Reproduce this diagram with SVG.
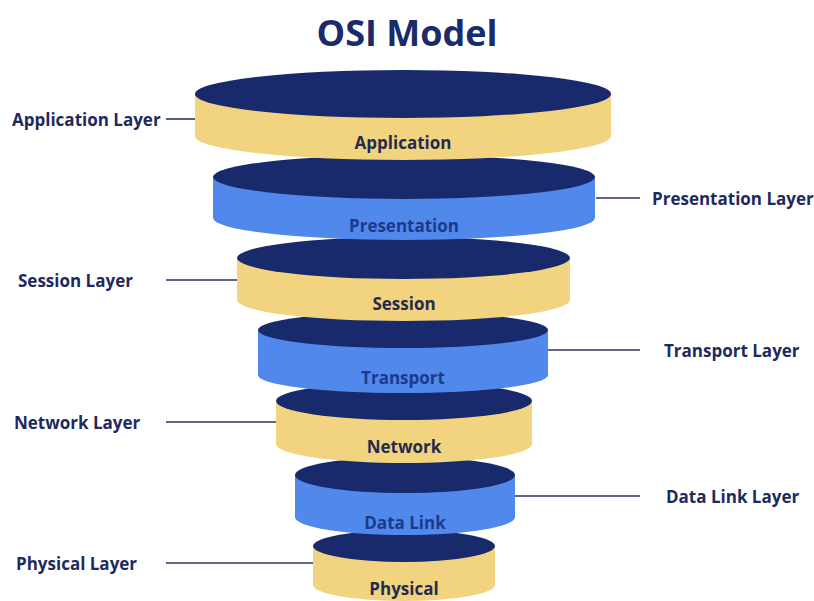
<svg xmlns="http://www.w3.org/2000/svg" width="814" height="601" viewBox="0 0 814 601">
<style>
.top{fill:#182a6c}
.y{fill:#f2d37f}
.b{fill:#5088ec}
.t{font-family:"Open Sans","Noto Sans",sans-serif;font-weight:700;font-size:17px;text-anchor:middle;dominant-baseline:central}
.ty{fill:#252b4f}
.tb{fill:#1c3a8c}
.lbl{font-family:"Open Sans","Noto Sans",sans-serif;font-weight:700;font-size:17px;fill:#1e2a5e;dominant-baseline:central}
.c{stroke:#2a3566;stroke-width:1.6;fill:none}
</style>
<rect width="814" height="601" fill="#ffffff"/>
<text x="407" y="32" font-family="'Open Sans','Noto Sans',sans-serif" font-weight="700" font-size="36" fill="#1a2b6b" text-anchor="middle" dominant-baseline="central">OSI Model</text>
<g id="connectors">
<line class="c" x1="166" y1="119" x2="197" y2="119"/>
<line class="c" x1="596" y1="198" x2="640" y2="198"/>
<line class="c" x1="166" y1="280" x2="238" y2="280"/>
<line class="c" x1="548" y1="350" x2="640" y2="350"/>
<line class="c" x1="166" y1="422" x2="277" y2="422"/>
<line class="c" x1="515" y1="496" x2="640" y2="496"/>
<line class="c" x1="166" y1="563" x2="313" y2="563"/>
</g>
<g id="physical">
<ellipse class="y" cx="404" cy="585" rx="91" ry="16"/>
<rect class="y" x="313" y="546" width="182" height="39"/>
<ellipse class="top" cx="404" cy="546" rx="91" ry="16"/>
<text class="t ty" x="404" y="588">Physical</text>
</g>
<g id="datalink">
<ellipse class="b" cx="405" cy="517" rx="110" ry="18"/>
<rect class="b" x="295" y="475" width="220" height="42"/>
<ellipse class="top" cx="405" cy="475" rx="110" ry="18"/>
<text class="t tb" x="405" y="522">Data Link</text>
</g>
<g id="network">
<ellipse class="y" cx="404" cy="444" rx="128" ry="19"/>
<rect class="y" x="276" y="401" width="256" height="43"/>
<ellipse class="top" cx="404" cy="401" rx="128" ry="19"/>
<text class="t ty" x="404" y="446">Network</text>
</g>
<g id="transport">
<ellipse class="b" cx="403" cy="375" rx="145" ry="18"/>
<rect class="b" x="258" y="330" width="290" height="45"/>
<ellipse class="top" cx="403" cy="330" rx="145" ry="18"/>
<text class="t tb" x="403" y="377">Transport</text>
</g>
<g id="session">
<ellipse class="y" cx="403.5" cy="300" rx="166.5" ry="21"/>
<rect class="y" x="237" y="258" width="333" height="42"/>
<ellipse class="top" cx="403.5" cy="258" rx="166.5" ry="21"/>
<text class="t ty" x="404" y="303">Session</text>
</g>
<g id="presentation">
<ellipse class="b" cx="404" cy="218" rx="191" ry="22"/>
<rect class="b" x="213" y="177" width="382" height="41"/>
<ellipse class="top" cx="404" cy="177" rx="191" ry="22"/>
<text class="t tb" x="404" y="225">Presentation</text>
</g>
<g id="application">
<ellipse class="y" cx="403" cy="136" rx="208" ry="24"/>
<rect class="y" x="195" y="94" width="416" height="42"/>
<ellipse class="top" cx="403" cy="94" rx="208" ry="24"/>
<text class="t ty" x="403" y="142">Application</text>
</g>
<g id="labels">
<text class="lbl" x="12" y="119">Application Layer</text>
<text class="lbl" x="652" y="198">Presentation Layer</text>
<text class="lbl" x="18" y="280">Session Layer</text>
<text class="lbl" x="664" y="350">Transport Layer</text>
<text class="lbl" x="14" y="422">Network Layer</text>
<text class="lbl" x="666" y="496">Data Link Layer</text>
<text class="lbl" x="16" y="563">Physical Layer</text>
</g>
</svg>
